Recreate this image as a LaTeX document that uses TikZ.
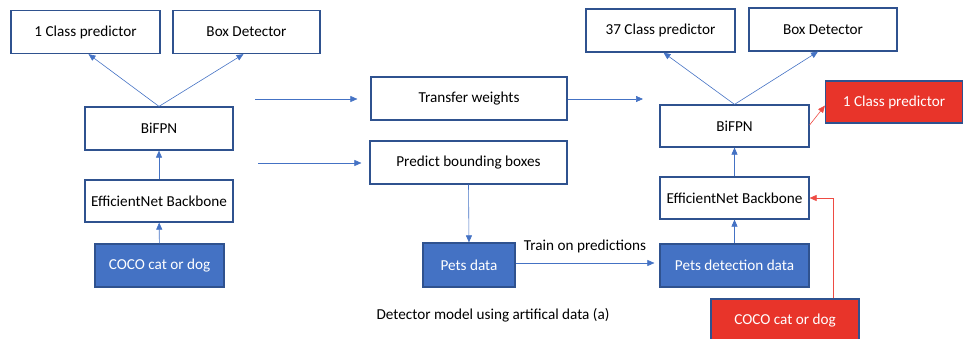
\documentclass[tikz,border=0pt]{standalone}
\usepackage{fontspec}
\setmainfont{Carlito}
\usetikzlibrary{arrows.meta}
\definecolor{boxline}{HTML}{2F528F}
\definecolor{bluefill}{HTML}{4472C4}
\definecolor{redfill}{HTML}{E8342A}
\definecolor{linkblue}{HTML}{4472C4}
\definecolor{linkred}{HTML}{EE4B43}
\tikzset{
  box/.style={draw=boxline, line width=1.2pt, fill=white, inner sep=0pt,
    minimum height=43pt, font=\fontsize{15.2}{18}\selectfont},
  bluebox/.style={box, fill=bluefill, text=white},
  redbox/.style={box, fill=redfill, text=white},
  link/.style={draw=linkblue, line width=0.6pt, -{Triangle[length=7pt,width=6pt]}},
  redlink/.style={draw=linkred, line width=0.6pt, -{Triangle[length=7pt,width=6pt]}},
  caption/.style={inner sep=0pt, font=\fontsize{15.2}{18}\selectfont}
}
\begin{document}
\begin{tikzpicture}[x=1pt,y=-1pt]
\useasboundingbox (0,0) rectangle (963,339);
\clip (0,0) rectangle (963,339);

% source model
\node[box, minimum width=149pt] (Lcls) at (85.5,32) {1 Class predictor};
\node[box, minimum width=147pt] (Lbox) at (246.5,32) {Box Detector};
\node[box, minimum width=148pt] (Lbifpn) at (159,128.5) {BiFPN};
\node[box, minimum width=148pt, minimum height=42pt] (Leff) at (159,201) {EfficientNet Backbone};
\node[bluebox, minimum width=129pt] (Lcoco) at (159.5,265.5) {COCO cat or dog};

% middle steps
\node[box, minimum width=196pt] (transfer) at (469,98.5) {Transfer weights};
\node[box, minimum width=197pt] (predict) at (468.5,162.5) {Predict bounding boxes};
\node[bluebox, minimum width=92pt, minimum height=44pt] (pets) at (469,265) {Pets data};

% target model
\node[box, minimum width=149pt] (Rcls) at (660.5,30.5) {37 Class predictor};
\node[box, minimum width=148pt] (Rbox) at (823,29.5) {Box Detector};
\node[box, minimum width=149pt, minimum height=42pt] (Rbifpn) at (734.5,126) {BiFPN};
\node[redbox, minimum width=137pt, minimum height=42pt] (Rone) at (894,102) {1 Class predictor};
\node[box, minimum width=149pt, minimum height=42pt] (Reff) at (734.5,198) {EfficientNet Backbone};
\node[bluebox, minimum width=149pt] (Rpets) at (734.5,265.5) {Pets detection data};
\node[redbox, minimum width=148pt, minimum height=44pt] (Rcoco) at (785,321) {COCO cat or dog};

% free arrow ends
\coordinate (fromA) at (255,99);
\coordinate (fromB) at (258,163);
\coordinate (toA) at (643,99);

% labels
\node[caption] (trainlbl) at (585,246) {Train on predictions};
\node[caption] (caption) at (493,315) {Detector model using artifical data (a)};

% connectors
\draw[link] (Lcoco) -- (Leff);
\draw[link] (Leff) -- (Lbifpn);
\draw[link] (Lbifpn.north) -- ([xshift=3pt]Lcls.south);
\draw[link] (Lbifpn.north) -- ([xshift=-3pt]Lbox.south);
\draw[link, shorten >=13pt] (fromA) -- (transfer.west |- fromA);
\draw[link, shorten >=8pt] (fromB) -- (predict.west |- fromB);
\draw[link] (transfer.east |- toA) -- (toA);
\draw[link] (predict.south) -- (pets.north);
\draw[link, shorten >=5pt] (pets.east |- 0,263) -- (Rpets.west |- 0,263);
\draw[link] (Rpets) -- (Reff);
\draw[link] (Reff) -- (Rbifpn);
\draw[link] (Rbifpn.north) -- ([xshift=3pt]Rcls.south);
\draw[link] (Rbifpn.north) -- ([xshift=-5pt]Rbox.south);
\draw[redlink] (Rbifpn.east |- 0,125) -- (Rone.183);
\draw[redlink] ([xshift=48pt]Rcoco.north) |- (Reff.east);
\end{tikzpicture}
\end{document}
